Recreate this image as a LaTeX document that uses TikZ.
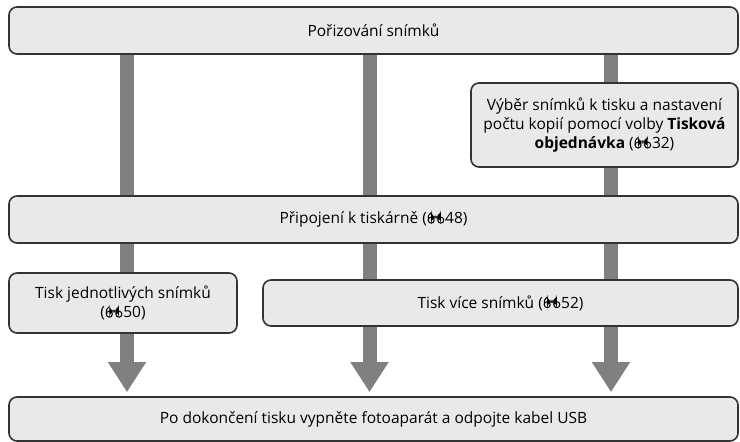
\documentclass[tikz,border=0pt]{standalone}
\usepackage{fontspec}
\setmainfont{Open Sans}
\usetikzlibrary{arrows.meta,backgrounds}

\definecolor{boxfill}{HTML}{E9E9E9}
\definecolor{boxline}{HTML}{333333}
\definecolor{bargray}{HTML}{808080}

\newcommand{\binoc}{\tikz[baseline=0pt, x=15.5pt, y=15.5pt, line width=1pt]{
 \draw (0.3,0.22) circle[radius=3pt];
 \draw (0.92,0.22) circle[radius=3pt];
 \fill (0.3,0.33) rectangle (0.92,0.5);
 \draw (0.11,0.22) .. controls (0.11,0.55) .. (0.29,0.7);
 \draw (0.73,0.22) .. controls (0.73,0.55) .. (0.91,0.7);
 \useasboundingbox (0.02,0) rectangle (1.2,0.7);}}

\begin{document}
\begin{tikzpicture}[x=1pt, y=-1pt,
 every node/.style={font=\fontsize{15.5}{19}\selectfont},
 stepbox/.style={draw=boxline, line width=1.6pt, fill=boxfill, rounded corners=8pt,
   align=center, inner sep=0pt},
 bar/.style={draw=bargray, line width=14pt},
 bararrow/.style={bar, -{Triangle[width=36pt,length=30pt]}, shorten >=4pt}]
 \useasboundingbox (0,0) rectangle (740,442);

 \coordinate (c1) at (127,0);
 \coordinate (c2) at (369.5,0);
 \coordinate (c3) at (611,0);

 \node[stepbox, minimum width=729pt, minimum height=47pt] (shoot) at (373.5,30.5) {Pořizování snímků};
 \node[stepbox, minimum width=267pt, minimum height=84pt] (order) at (604.5,125)
   {Výběr snímků k tisku a nastavení\\počtu kopií pomocí volby \textbf{Tisková}\\\textbf{objednávka} (\binoc32)};
 \node[stepbox, minimum width=729pt, minimum height=47pt] (connect) at (373.5,219.5) {Připojení k tiskárně (\binoc48)};
 \node[stepbox, minimum width=228pt, minimum height=60pt] (single) at (123,303)
   {Tisk jednotlivých snímků\\(\binoc50)};
 \node[stepbox, minimum width=475pt, minimum height=46pt] (multi) at (500.5,303) {Tisk více snímků (\binoc52)};
 \node[stepbox, minimum width=729pt, minimum height=44pt] (finish) at (373.5,419)
   {Po dokončení tisku vypněte fotoaparát a odpojte kabel USB};

 \begin{scope}[on background layer]
  \foreach \c in {c1,c2,c3} {
   \draw[bar] (\c |- shoot.south) -- (\c |- connect.north);
   \draw[bararrow] (\c |- connect.south) -- (\c |- finish.north);
  }
 \end{scope}
\end{tikzpicture}
\end{document}
